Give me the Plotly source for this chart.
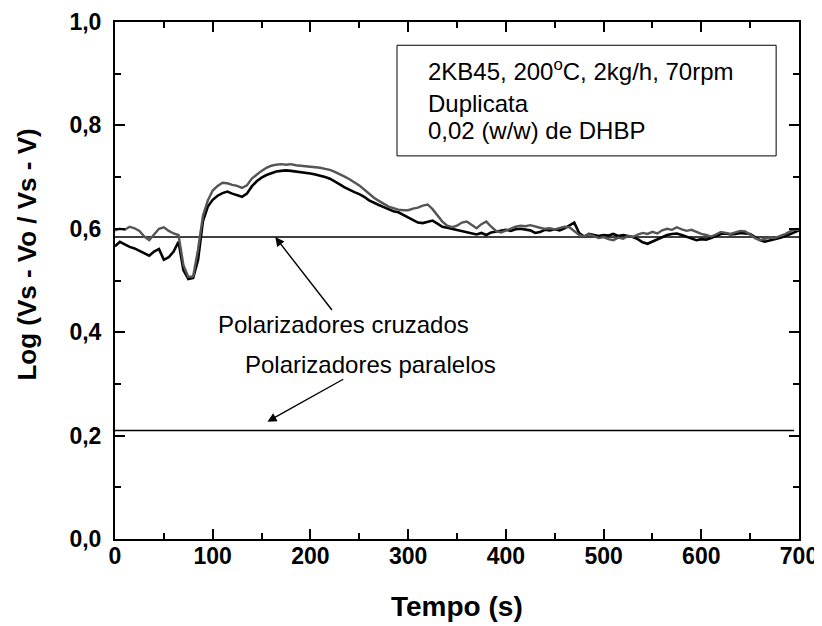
import plotly.graph_objects as go

# ---------------- data ----------------
tempo = list(range(0, 705, 5))

serie_cinza = [
    0.597, 0.600, 0.598, 0.604, 0.601, 0.596, 0.585, 0.578, 0.589, 0.600,
    0.603, 0.596, 0.591, 0.588, 0.530, 0.507, 0.508, 0.560, 0.625, 0.655,
    0.674, 0.683, 0.689, 0.688, 0.685, 0.683, 0.679, 0.684, 0.697, 0.705,
    0.712, 0.718, 0.722, 0.724, 0.725, 0.724, 0.725, 0.723, 0.722, 0.722,
    0.720, 0.720, 0.718, 0.716, 0.714, 0.710, 0.706, 0.701, 0.696, 0.690,
    0.684, 0.676, 0.668, 0.660, 0.654, 0.648, 0.643, 0.640, 0.637, 0.636,
    0.636, 0.639, 0.641, 0.645, 0.647, 0.638, 0.625, 0.614, 0.606, 0.603,
    0.606, 0.612, 0.614, 0.607, 0.601, 0.609, 0.614, 0.604, 0.596, 0.593,
    0.597, 0.601, 0.604, 0.606, 0.605, 0.607, 0.604, 0.602, 0.600, 0.601,
    0.599, 0.602, 0.604, 0.603, 0.596, 0.588, 0.585, 0.590, 0.586, 0.582,
    0.584, 0.580, 0.578, 0.583, 0.581, 0.586, 0.584, 0.589, 0.592, 0.590,
    0.594, 0.591, 0.597, 0.600, 0.598, 0.603, 0.599, 0.596, 0.598, 0.594,
    0.590, 0.588, 0.585, 0.589, 0.594, 0.592, 0.590, 0.593, 0.596, 0.595,
    0.589, 0.582, 0.578, 0.580, 0.583, 0.582, 0.585, 0.589, 0.594, 0.598,
    0.598,
]

serie_preta = [
    0.566, 0.575, 0.570, 0.565, 0.562, 0.557, 0.552, 0.548, 0.556, 0.561,
    0.540, 0.545, 0.556, 0.575, 0.520, 0.503, 0.505, 0.540, 0.615, 0.643,
    0.656, 0.664, 0.669, 0.672, 0.668, 0.665, 0.662, 0.668, 0.682, 0.692,
    0.699, 0.704, 0.708, 0.711, 0.712, 0.713, 0.712, 0.711, 0.710, 0.709,
    0.707, 0.705, 0.703, 0.700, 0.697, 0.692, 0.686, 0.680, 0.675, 0.671,
    0.667, 0.662, 0.655, 0.650, 0.646, 0.642, 0.638, 0.634, 0.632, 0.627,
    0.622, 0.617, 0.612, 0.611, 0.614, 0.616, 0.610, 0.604, 0.602, 0.600,
    0.598, 0.596, 0.593, 0.591, 0.589, 0.592, 0.588, 0.593, 0.595, 0.597,
    0.598, 0.596, 0.599, 0.600, 0.598, 0.597, 0.592, 0.594, 0.598, 0.597,
    0.599, 0.597, 0.601, 0.606, 0.612, 0.592, 0.585, 0.590, 0.588, 0.586,
    0.588, 0.587, 0.590, 0.586, 0.588, 0.586, 0.584, 0.580, 0.574, 0.571,
    0.575, 0.580, 0.584, 0.588, 0.590, 0.591, 0.588, 0.585, 0.581, 0.578,
    0.580, 0.579, 0.582, 0.586, 0.590, 0.591, 0.589, 0.590, 0.592, 0.591,
    0.590, 0.584, 0.578, 0.575, 0.577, 0.579, 0.582, 0.585, 0.589, 0.594,
    0.597,
]

nivel_cruzados = 0.584
nivel_paralelos = 0.21
ref_cruzados_x = [0, 700]
ref_paralelos_x = [0, 695]

x_ticks = [0, 100, 200, 300, 400, 500, 600, 700]
y_ticks = [0.0, 0.2, 0.4, 0.6, 0.8, 1.0]

caixa_linhas = ["2KB45, 200<sup>o</sup>C, 2kg/h, 70rpm", "Duplicata", "0,02 (w/w) de DHBP"]
titulo_x = "Tempo (s)"
titulo_y = "Log (Vs - Vo / Vs - V)"

# ---------------- figure ----------------
fig = go.Figure()

fig.add_trace(go.Scatter(x=ref_cruzados_x, y=[nivel_cruzados] * 2, mode="lines",
                         line=dict(color="black", width=1.4), hoverinfo="skip"))
fig.add_trace(go.Scatter(x=ref_paralelos_x, y=[nivel_paralelos] * 2, mode="lines",
                         line=dict(color="black", width=1.4), hoverinfo="skip"))
fig.add_trace(go.Scatter(x=tempo, y=serie_preta, mode="lines",
                         line=dict(color="#000000", width=2.6)))
fig.add_trace(go.Scatter(x=tempo, y=serie_cinza, mode="lines",
                         line=dict(color="#555555", width=2.4)))

font_fam = "Arial, Liberation Sans, sans-serif"

# legend-like box
fig.add_shape(type="rect", xref="x", yref="y", x0=288.6, x1=676.6, y0=0.741, y1=0.955,
              line=dict(color="black", width=1), fillcolor="white", layer="above")
for txt, yv in zip(caixa_linhas, [0.907, 0.843, 0.791]):
    fig.add_annotation(x=318, y=yv, xref="x", yref="y", text=txt, showarrow=False,
                       xanchor="left", yanchor="middle",
                       font=dict(family=font_fam, size=24, color="black"))

# labels with arrows
fig.add_annotation(x=164, y=nivel_cruzados, ax=234, ay=0.414, xref="x", yref="y",
                   axref="x", ayref="y", text="Polarizadores cruzados", showarrow=True,
                   arrowhead=2, arrowsize=1.3, arrowwidth=1.4, arrowcolor="black",
                   font=dict(family=font_fam, size=24, color="black"))
fig.add_annotation(x=156, y=0.227, ax=261, ay=0.338, xref="x", yref="y",
                   axref="x", ayref="y", text="Polarizadores paralelos", showarrow=True,
                   arrowhead=2, arrowsize=1.3, arrowwidth=1.4, arrowcolor="black",
                   font=dict(family=font_fam, size=24, color="black"))

# axis titles
fig.add_annotation(x=0.5, y=-0.131, xref="paper", yref="paper", text=titulo_x,
                   showarrow=False, xanchor="center", yanchor="middle",
                   font=dict(family=font_fam, size=28, color="black", weight="bold"))
fig.add_annotation(x=-0.1287, y=0.55, xref="paper", yref="paper", text=titulo_y,
                   showarrow=False, textangle=-90, xanchor="center", yanchor="middle",
                   font=dict(family=font_fam, size=26, color="black", weight="bold"))

axis_common = dict(showline=True, linecolor="black", linewidth=2, mirror="allticks",
                   ticks="inside", ticklen=10, tickwidth=2, tickcolor="black",
                   showgrid=False, zeroline=False, automargin=False,
                   ticklabeloverflow="allow",
                   tickfont=dict(family=font_fam, size=23, color="black", weight="bold"))

fig.update_xaxes(range=[0, 700], tickvals=x_ticks,
                 minor=dict(dtick=50, ticks="inside", ticklen=6, tickwidth=2, tickcolor="black"),
                 ticklabelstandoff=-5,
                 **axis_common)
fig.update_yaxes(range=[0, 1], tickvals=y_ticks, tickformat=".1f",
                 minor=dict(dtick=0.1, ticks="inside", ticklen=6, tickwidth=2, tickcolor="black"),
                 ticklabelstandoff=7,
                 **axis_common)

# the page draws the figure 8 px in from the top-left corner, so the
# margins below place the plot box where it sits in the reference picture
fig.update_layout(width=822, height=626, showlegend=False, separators=",.",
                  plot_bgcolor="white", paper_bgcolor="white",
                  margin=dict(l=107, r=31, t=14, b=95))

fig.write_html("out.html")
